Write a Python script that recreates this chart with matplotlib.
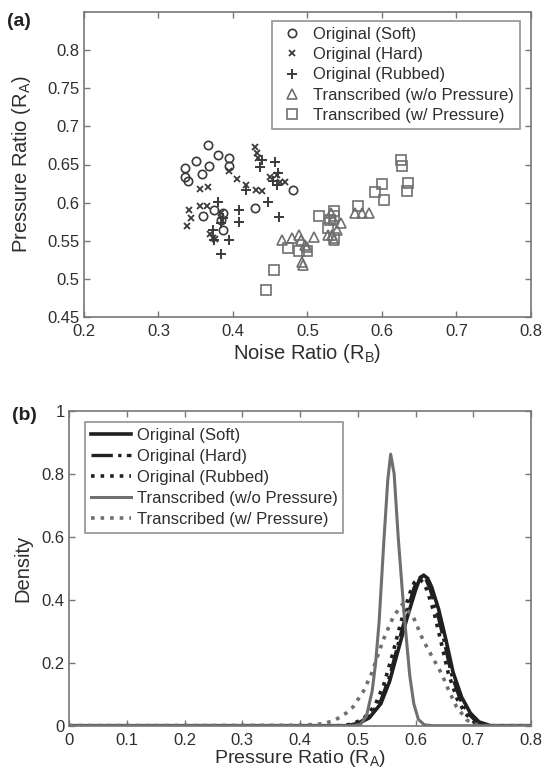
import matplotlib
matplotlib.use("Agg")
import matplotlib.pyplot as plt

plt.rcParams['font.family'] = ['Liberation Sans', 'DejaVu Sans']

# ---------------- Panel (a) data: (Noise ratio R_B, Pressure ratio R_A)
soft_x = [0.335, 0.335, 0.340, 0.350, 0.358, 0.368, 0.366, 0.380, 0.394, 0.394,
          0.360, 0.374, 0.387, 0.387, 0.384, 0.429, 0.481]
soft_y = [0.646, 0.634, 0.628, 0.655, 0.638, 0.648, 0.675, 0.663, 0.658, 0.648,
          0.582, 0.590, 0.586, 0.564, 0.577, 0.593, 0.616]

hard_x = [0.429, 0.432, 0.433, 0.395, 0.405, 0.418, 0.431, 0.439, 0.356, 0.367,
          0.356, 0.365, 0.341, 0.343, 0.338, 0.369, 0.373, 0.459, 0.463, 0.470,
          0.449, 0.384, 0.376]
hard_y = [0.673, 0.665, 0.658, 0.642, 0.631, 0.623, 0.616, 0.615, 0.618, 0.620,
          0.596, 0.595, 0.590, 0.580, 0.569, 0.559, 0.554, 0.636, 0.627, 0.627,
          0.633, 0.586, 0.552]

rub_x = [0.436, 0.439, 0.457, 0.461, 0.454, 0.459, 0.417, 0.447, 0.380, 0.408,
         0.408, 0.394, 0.384, 0.375, 0.373, 0.384, 0.462, 0.386]
rub_y = [0.647, 0.656, 0.653, 0.639, 0.629, 0.623, 0.617, 0.601, 0.601, 0.590,
         0.575, 0.551, 0.532, 0.551, 0.564, 0.573, 0.581, 0.580]

tri_x = [0.466, 0.479, 0.488, 0.491, 0.496, 0.509, 0.493, 0.494, 0.500, 0.528,
         0.533, 0.536, 0.540, 0.545, 0.564, 0.573, 0.582, 0.531, 0.534]
tri_y = [0.551, 0.553, 0.557, 0.551, 0.544, 0.555, 0.522, 0.518, 0.542, 0.557,
         0.557, 0.551, 0.564, 0.573, 0.586, 0.586, 0.586, 0.586, 0.578]

sq_x = [0.444, 0.455, 0.474, 0.488, 0.500, 0.516, 0.528, 0.530, 0.536, 0.536,
        0.568, 0.590, 0.600, 0.603, 0.626, 0.627, 0.635, 0.634, 0.536]
sq_y = [0.486, 0.512, 0.541, 0.537, 0.537, 0.582, 0.567, 0.577, 0.589, 0.582,
        0.596, 0.614, 0.625, 0.604, 0.656, 0.648, 0.626, 0.615, 0.553]

labels = ['Original (Soft)', 'Original (Hard)', 'Original (Rubbed)',
          'Transcribed (w/o Pressure)', 'Transcribed (w/ Pressure)']

# ---------------- Panel (b) data: density curves
soft_cx = [0, 0.48, 0.50, 0.52, 0.54, 0.555, 0.57, 0.585, 0.60, 0.607, 0.614, 0.621,
           0.628, 0.64, 0.653, 0.665, 0.68, 0.695, 0.71, 0.73, 0.8]
soft_cy = [0, 0, 0.006, 0.025, 0.07, 0.14, 0.24, 0.34, 0.43, 0.465, 0.478, 0.468,
           0.44, 0.37, 0.27, 0.17, 0.09, 0.04, 0.012, 0, 0]

hard_cx = [0, 0.48, 0.50, 0.52, 0.54, 0.555, 0.57, 0.585, 0.597, 0.604, 0.611, 0.618,
           0.625, 0.637, 0.65, 0.662, 0.677, 0.692, 0.707, 0.725, 0.8]
hard_cy = [0, 0, 0.007, 0.03, 0.08, 0.155, 0.26, 0.36, 0.435, 0.465, 0.475, 0.465,
           0.435, 0.365, 0.265, 0.165, 0.085, 0.037, 0.011, 0, 0]

rub_cx = [0, 0.47, 0.49, 0.51, 0.53, 0.545, 0.56, 0.575, 0.59, 0.598, 0.606, 0.613,
          0.62, 0.632, 0.645, 0.657, 0.672, 0.687, 0.702, 0.72, 0.8]
rub_cy = [0, 0, 0.005, 0.022, 0.065, 0.13, 0.225, 0.33, 0.42, 0.455, 0.466, 0.456,
          0.43, 0.36, 0.26, 0.165, 0.085, 0.037, 0.011, 0, 0]

wo_cx = [0, 0.49, 0.505, 0.515, 0.525, 0.531, 0.537, 0.545, 0.552, 0.557, 0.563,
         0.570, 0.580, 0.590, 0.597, 0.605, 0.615, 0.63, 0.8]
wo_cy = [0, 0, 0.005, 0.03, 0.11, 0.2, 0.33, 0.58, 0.78, 0.862, 0.80,
         0.60, 0.36, 0.16, 0.07, 0.02, 0.003, 0, 0]

w_cx = [0, 0.2, 0.40, 0.44, 0.461, 0.48, 0.492, 0.51, 0.524, 0.544, 0.5616, 0.577,
        0.596, 0.613, 0.63, 0.645, 0.658, 0.671, 0.689, 0.70, 0.72, 0.8]
w_cy = [0, 0, 0.001, 0.006, 0.018, 0.04, 0.06, 0.11, 0.166, 0.272, 0.346, 0.385,
        0.346, 0.272, 0.215, 0.166, 0.11, 0.06, 0.018, 0.006, 0, 0]

dark = '#3a3a3a'
mid = '#6f6f6f'
spine = '#777777'
txt = '#2e2e2e'

TICK_FS = 12
LAB_FS = 14.5
LEG_FS = 12

fig = plt.figure(figsize=(5.42, 7.74), dpi=100)

def style_axes(ax):
    for s in ax.spines.values():
        s.set_color(spine)
        s.set_linewidth(1.2)
    ax.tick_params(direction='in', top=True, right=True, length=4, width=1,
                   color=spine, labelsize=TICK_FS, labelcolor=txt)
    ax.tick_params(axis='x', pad=5)
    ax.tick_params(axis='y', pad=3)

# ---------------- (a)
ax1 = fig.add_axes([84/542, 1-317/774, (531-84)/542, (317-12)/774])
ax1.plot(soft_x, soft_y, 'o', ms=6, mfc='none', mec=dark, mew=1.2, label=labels[0])
ax1.plot(hard_x, hard_y, 'x', ms=5, mec=dark, mew=1.3, label=labels[1])
ax1.plot(rub_x, rub_y, '+', ms=7, mec=dark, mew=1.4, label=labels[2])
ax1.plot(tri_x, tri_y, '^', ms=7, mfc='none', mec=mid, mew=1.2, label=labels[3])
ax1.plot(sq_x, sq_y, 's', ms=7, mfc='none', mec=mid, mew=1.2, label=labels[4])
ax1.set_xlim(0.2, 0.8)
ax1.set_ylim(0.45, 0.85)
ax1.set_xticks([0.2, 0.3, 0.4, 0.5, 0.6, 0.7, 0.8])
ax1.set_xticklabels(['0.2', '0.3', '0.4', '0.5', '0.6', '0.7', '0.8'])
ax1.set_yticks([0.45, 0.5, 0.55, 0.6, 0.65, 0.7, 0.75, 0.8])
ax1.set_yticklabels(['0.45', '0.5', '0.55', '0.6', '0.65', '0.7', '0.75', '0.8'])
style_axes(ax1)
ax1.set_xlabel('Noise Ratio (R$_\\mathregular{B}$)', fontsize=LAB_FS, color=txt, va='top')
ax1.xaxis.set_label_coords(0.5, -0.082)
ax1.set_ylabel('Pressure Ratio (R$_\\mathregular{A}$)', fontsize=LAB_FS, color=txt, va='center')
ax1.yaxis.set_label_coords(-0.139, 0.5)
leg1 = ax1.legend(loc='upper right', bbox_to_anchor=(0.9754, 0.9705), fontsize=LEG_FS,
                  frameon=True, fancybox=False, edgecolor=spine, borderpad=0.35,
                  handletextpad=0.5, labelspacing=0.32, borderaxespad=0.0, handlelength=1.6)
leg1.get_frame().set_linewidth(1.2)
for t in leg1.get_texts():
    t.set_color(txt)
fig.text(7/542, 1-22/774, '(a)', fontsize=14, fontweight='bold', color='#222222',
         va='center', ha='left')

# ---------------- (b)
ax2 = fig.add_axes([69/542, 1-725.7/774, (531-69)/542, (725.7-410.7)/774])
ax2.plot(soft_cx, soft_cy, '-', color='#202020', lw=2.6, label=labels[0])
ax2.plot(hard_cx, hard_cy, '-.', color='#202020', lw=2.4, label=labels[1])
ax2.plot(rub_cx, rub_cy, ':', color='#202020', lw=2.6, label=labels[2])
ax2.plot(wo_cx, wo_cy, '-', color=mid, lw=2.2, label=labels[3])
ax2.plot(w_cx, w_cy, ':', color=mid, lw=2.6, label=labels[4])
ax2.set_xlim(0, 0.8)
ax2.set_ylim(0, 1)
ax2.set_xticks([0, 0.1, 0.2, 0.3, 0.4, 0.5, 0.6, 0.7, 0.8])
ax2.set_xticklabels(['0', '0.1', '0.2', '0.3', '0.4', '0.5', '0.6', '0.7', '0.8'])
ax2.set_yticks([0, 0.2, 0.4, 0.6, 0.8, 1])
ax2.set_yticklabels(['0', '0.2', '0.4', '0.6', '0.8', '1'])
style_axes(ax2)
ax2.set_xlabel('Pressure Ratio (R$_\\mathregular{A}$)', fontsize=14, color=txt, va='top')
ax2.xaxis.set_label_coords(0.5, -0.072)
ax2.set_ylabel('Density', fontsize=LAB_FS, color=txt, va='center')
ax2.yaxis.set_label_coords(-0.1006, 0.5)
leg2 = ax2.legend(loc='upper left', bbox_to_anchor=(0.0346, 0.964), fontsize=LEG_FS,
                  frameon=True, fancybox=False, edgecolor=spine, borderpad=0.35,
                  handletextpad=0.35, labelspacing=0.36, borderaxespad=0.0,
                  handlelength=2.4)
leg2.get_frame().set_linewidth(1.2)
for t in leg2.get_texts():
    t.set_color(txt)
fig.text(12/542, 1-415/774, '(b)', fontsize=14, fontweight='bold', color='#222222',
         va='center', ha='left')

fig.savefig('out.png', dpi=100, facecolor='white')
